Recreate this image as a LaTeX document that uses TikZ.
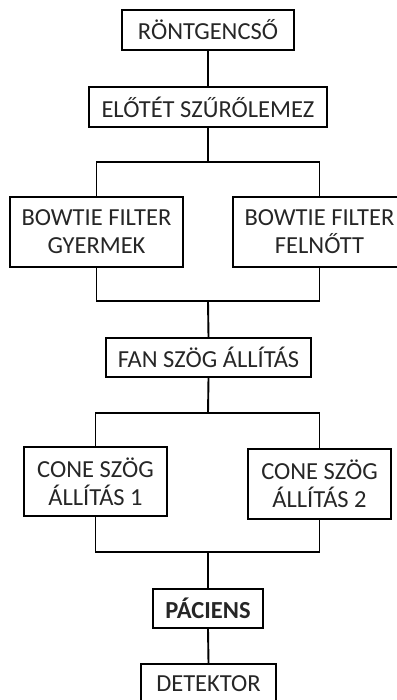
\documentclass[tikz,border=0pt]{standalone}
\usepackage{fontspec}
\setmainfont{Carlito}
\begin{document}
\begin{tikzpicture}[x=1pt,y=1pt,
  box/.style={draw=black,line width=1.9pt,inner sep=0pt,align=center,text=black!85,
    font=\fontsize{24.5}{28}\selectfont},
  conn/.style={line width=1.9pt}]
\useasboundingbox (0,0) rectangle (396,-700);
\node[box,minimum width=172,minimum height=40] (rtg) at (208,-30) {RÖNTGENCSŐ};
\node[box,minimum width=238,minimum height=40] (elo) at (208,-107) {ELŐTÉT SZŰRŐLEMEZ};
\node[box,minimum width=173,minimum height=70] (bg) at (96.5,-232) {BOWTIE FILTER\\GYERMEK};
\node[box,minimum width=173,minimum height=70] (bf) at (319.5,-232) {BOWTIE FILTER\\FELNŐTT};
\node[box,minimum width=205,minimum height=39] (fan) at (208.5,-357.5) {FAN SZÖG ÁLLÍTÁS};
\node[box,minimum width=143,minimum height=69] (c1) at (95.5,-481.5) {CONE SZÖG\\ÁLLÍTÁS 1};
\node[box,minimum width=143,minimum height=70] (c2) at (319.5,-484) {CONE SZÖG\\ÁLLÍTÁS 2};
\node[box,minimum width=110,minimum height=39,font=\fontsize{24.5}{28}\selectfont\bfseries] (pac) at (208,-608.5) {PÁCIENS};
\node[box,minimum width=135,minimum height=40] (det) at (208.5,-684) {DETEKTOR};
\coordinate (b1) at (208,-162);
\coordinate (j1) at (208,-301);
\coordinate (b2) at (208,-413);
\coordinate (j2) at (208,-552);
\draw[conn] (rtg.south) -- (elo.north);
\draw[conn] (elo.south) -- (b1);
\draw[conn] (bg.north) |- (b1) -| (bf.north);
\draw[conn] (bg.south) |- (j1) -| (bf.south);
\draw[conn] (j1) -- (fan.north);
\draw[conn] (fan.south) -- (b2);
\draw[conn] (c1.north) |- (b2) -| (c2.north);
\draw[conn] (c1.south) |- (j2) -| (c2.south);
\draw[conn] (j2) -- (pac.north);
\draw[conn] (pac.south) -- (det.north);
\end{tikzpicture}
\end{document}
